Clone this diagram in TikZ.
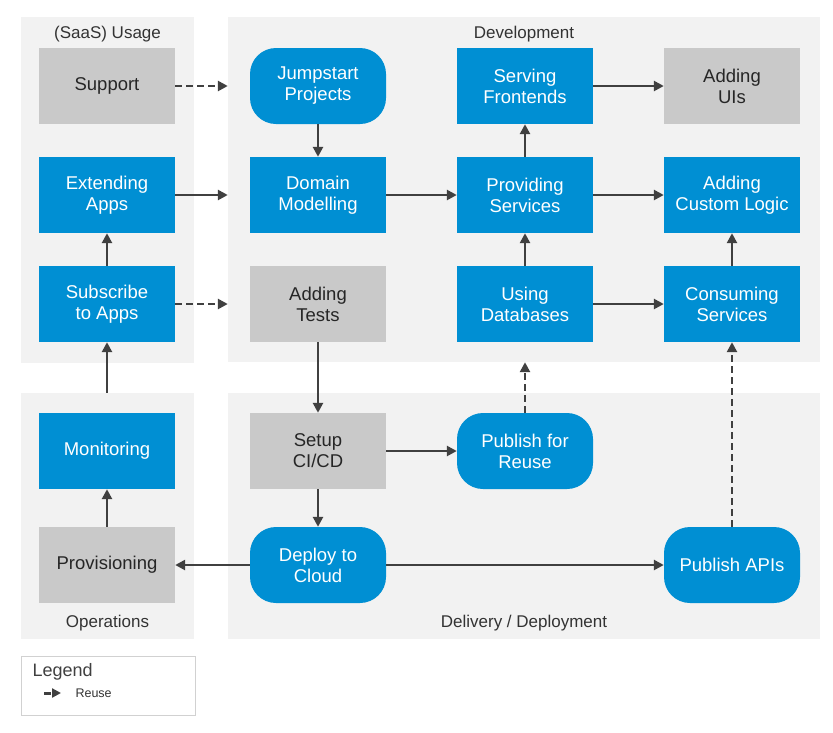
\documentclass[tikz,border=0pt]{standalone}
\usepackage{fontspec}
\setmainfont{Liberation Sans}
\usetikzlibrary{positioning, arrows.meta, shapes}

\definecolor{sapblue}{RGB}{0,143,211}
\definecolor{boxgray}{RGB}{201,201,201}
\definecolor{panelgray}{RGB}{242,242,242}
\definecolor{arrowgray}{RGB}{64,64,64}
\definecolor{textgray}{RGB}{51,51,51}

\begin{document}
\begin{tikzpicture}
    [x=1pt, y=-1pt,
     panel/.style={rectangle, fill=panelgray, inner sep=0pt},
     caption/.style={text=textgray, font=\fontsize{17}{20}\selectfont},
     task/.style={rectangle, minimum width=136pt, minimum height=76pt, inner sep=0pt,
                  align=center, font=\fontsize{18.5}{21}\selectfont},
     bluetask/.style={task, fill=sapblue, text=white},
     graytask/.style={task, fill=boxgray, text=black!85},
     roundtask/.style={bluetask, rounded corners=26pt},
     flow/.style={draw=arrowgray, line width=2.8pt, -{Triangle[length=10pt, width=10pt]}},
     reuse/.style={flow, dash pattern=on 7pt off 4pt}]
    \useasboundingbox (0,0) rectangle (833,732);

    % panels
    \node[panel, minimum width=173pt, minimum height=346pt] (usage) at (107.5,190) {};
    \node[panel, minimum width=592pt, minimum height=345pt] (dev) at (524,189.5) {};
    \node[panel, minimum width=173pt, minimum height=246pt] (ops) at (107.5,516) {};
    \node[panel, minimum width=592pt, minimum height=246pt] (delivery) at (524,516) {};

    \node[caption] (usagelabel) at (107.5,34) {(SaaS) Usage};
    \node[caption] (devlabel) at (524,34) {Development};
    \node[caption] (opslabel) at (107.5,623) {Operations};
    \node[caption] (deliverylabel) at (524,623) {Delivery / Deployment};

    % tasks
    \node[graytask] (support) at (107,86) {Support};
    \node[bluetask] (extending) at (107,195) {Extending\\Apps};
    \node[bluetask] (subscribe) at (107,304) {Subscribe\\to Apps};
    \node[bluetask] (monitoring) at (107,451) {Monitoring};
    \node[graytask] (provisioning) at (107,565) {Provisioning};

    \node[roundtask] (jumpstart) at (318,86) {Jumpstart\\Projects};
    \node[bluetask] (domain) at (318,195) {Domain\\Modelling};
    \node[graytask] (tests) at (318,304) {Adding\\Tests};
    \node[graytask] (setup) at (318,451) {Setup\\CI/CD};
    \node[roundtask] (deploy) at (318,565) {Deploy to\\Cloud};

    \node[bluetask] (serving) at (525,86) {Serving\\Frontends};
    \node[bluetask] (providing) at (525,195) {Providing\\Services};
    \node[bluetask] (databases) at (525,304) {Using\\Databases};
    \node[roundtask] (publishreuse) at (525,451) {Publish for\\Reuse};

    \node[graytask] (uis) at (732,86) {Adding\\UIs};
    \node[bluetask] (logic) at (732,195) {Adding\\Custom Logic};
    \node[bluetask] (consuming) at (732,304) {Consuming\\Services};
    \node[roundtask] (apis) at (732,565) {Publish APIs};

    % connectors
    \draw[reuse] (support.east) -- (support -| dev.west);
    \draw[flow] (extending.east) -- (extending -| dev.west);
    \draw[reuse] (subscribe.east) -- (subscribe -| dev.west);
    \draw[flow] (subscribe) -- (extending);
    \draw[flow] (monitoring |- ops.north) -- (subscribe.south);
    \draw[flow] (provisioning) -- (monitoring);

    \draw[flow] (jumpstart) -- (domain);
    \draw[flow] (domain) -- (providing);
    \draw[flow] (providing) -- (serving);
    \draw[flow] (serving) -- (uis);
    \draw[flow] (providing) -- (logic);
    \draw[flow] (databases) -- (providing);
    \draw[flow] (databases) -- (consuming);
    \draw[flow] (consuming) -- (logic);

    \draw[flow] (tests) -- (setup);
    \draw[flow] (setup) -- (publishreuse);
    \draw[flow] (setup) -- (deploy);
    \draw[reuse] (publishreuse.north) -- (publishreuse |- dev.south);
    \draw[flow] (deploy) -- (provisioning);
    \draw[flow] (deploy) -- (apis);
    \draw[reuse] (apis) -- (consuming);

    % legend
    \node[rectangle, draw=black!18, line width=0.8pt, minimum width=174pt, minimum height=59pt,
          inner sep=0pt] (legend) at (108,685.5) {};
    \node[anchor=west, text=black!75, font=\fontsize{18}{21}\selectfont] (legendtitle) at (29,672) {Legend};
    \coordinate (legendA) at (44,693);
    \coordinate (legendB) at (61,693);
    \draw[draw=arrowgray, line width=3pt, dash pattern=on 7pt off 2pt,
          -{Triangle[length=9pt, width=9pt]}] (legendA) -- (legendB);
    \node[anchor=west, text=textgray, font=\fontsize{12.5}{15}\selectfont] (legendreuse) at (72,693) {Reuse};
\end{tikzpicture}
\end{document}
